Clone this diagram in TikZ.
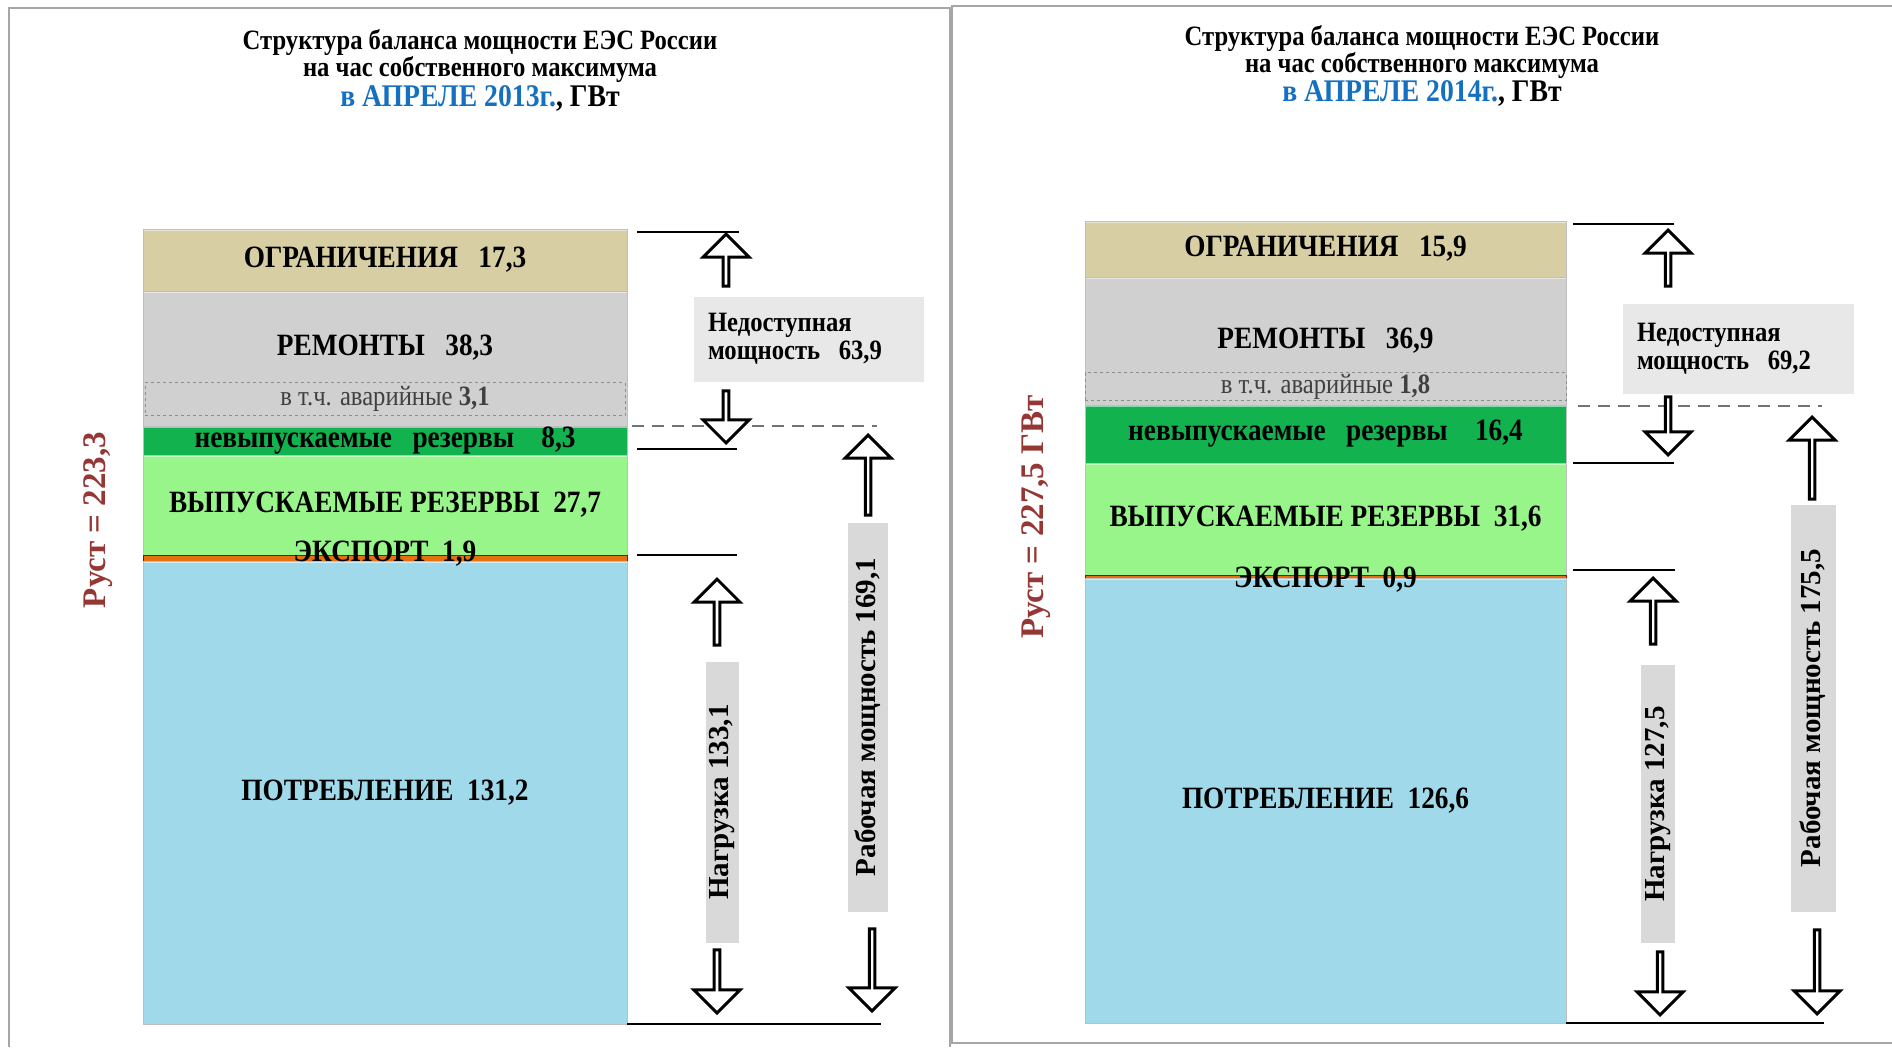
\documentclass[tikz,border=0pt]{standalone}
\usepackage{fontspec}
\setmainfont{Liberation Serif}
\newfontfamily\narrowfont[FakeStretch=0.88]{Liberation Serif}
\usetikzlibrary{positioning, shapes.arrows}

\definecolor{limcol}{HTML}{D7CFA3}
\definecolor{repcol}{HTML}{D0D0D0}
\definecolor{nrescol}{HTML}{12B24F}
\definecolor{rescol}{HTML}{98F58A}
\definecolor{expcol}{HTML}{E4700F}
\definecolor{conscol}{HTML}{A0D9EA}
\definecolor{notecol}{HTML}{E8E8E8}
\definecolor{vertcol}{HTML}{D9D9D9}
\definecolor{titleblue}{HTML}{1570C0}
\definecolor{capred}{HTML}{953735}
\definecolor{framecol}{HTML}{A6A6A6}

\newcommand{\segfont}{\narrowfont\bfseries\fontsize{31}{34}\selectfont}
\newcommand{\headfont}{\narrowfont\bfseries\fontsize{28}{30}\selectfont}
\newcommand{\notefont}{\narrowfont\bfseries\fontsize{28}{28}\selectfont}

\tikzstyle{segment} = [rectangle, minimum width=484pt, inner sep=0pt, outer sep=0pt, text centered, draw=black!25, line width=1pt, font=\segfont,
  path picture={\draw[white, opacity=0.5, line width=3pt] (path picture bounding box.north west) -- (path picture bounding box.north east);}]
\tikzstyle{stripe} = [rectangle, minimum width=484pt, inner sep=0pt, outer sep=0pt, draw=red!70!black, line width=0.8pt, fill=expcol]
\tikzstyle{seglabel} = [inner sep=0pt, font=\segfont]
\tikzstyle{emgbox} = [rectangle, draw=black!45, dashed, line width=0.8pt, inner sep=0pt, text=black!75, font=\narrowfont\fontsize{28}{30}\selectfont]
\tikzstyle{notebox} = [rectangle, fill=notecol, inner xsep=14pt, align=left, font=\notefont]
\tikzstyle{vertbox} = [rectangle, fill=vertcol, inner sep=0pt, rotate=90, font=\bfseries\fontsize{29}{32}\selectfont]
\tikzstyle{captext} = [rotate=90, text=capred, font=\bfseries\fontsize{33}{36}\selectfont]
\tikzstyle{headtext} = [inner sep=0pt, font=\headfont]
\tikzstyle{blockarrow} = [single arrow, draw=black, line width=3pt, fill=white, minimum width=46pt, single arrow head extend=11pt, single arrow tip angle=90, inner sep=0pt, anchor=tip]
\tikzstyle{blockup} = [blockarrow, rotate=90]
\tikzstyle{blockdown} = [blockarrow, rotate=-90]
\tikzstyle{dimline} = [line width=1.5pt]
\tikzstyle{levelline} = [line width=2pt, black!55, dash pattern=on 12pt off 8pt]
\tikzstyle{frame} = [line width=2pt, framecol]

\begin{document}
\begin{tikzpicture}[x=1pt, y=-1pt]
\useasboundingbox (0,0) rectangle (1892,1047);

% panels
\draw [frame] (9,1047) |- (950,8) -- (950,1047);
\draw [frame] (1892,6) -| (952,1043) -- (1892,1043);

% titles
\node (headL1) [headtext] at (480,42) {Структура баланса мощности ЕЭС России};
\node (headL2) [headtext] at (480,69) {на час собственного максимума};
\node (headL3) [headtext, font=\narrowfont\bfseries\fontsize{31.5}{32}\selectfont] at (480,98) {\textcolor{titleblue}{в АПРЕЛЕ 2013г.}, ГВт};
\node (headR1) [headtext] at (1422,38) {Структура баланса мощности ЕЭС России};
\node (headR2) [headtext] at (1422,65) {на час собственного максимума};
\node (headR3) [headtext, font=\narrowfont\bfseries\fontsize{31.5}{32}\selectfont] at (1422,93) {\textcolor{titleblue}{в АПРЕЛЕ 2014г.}, ГВт};

% left bar
\node (limL) [segment, fill=limcol, minimum height=62pt, anchor=north] at (385,229) {ОГРАНИЧЕНИЯ\ \ \ 17,3};
\node (repL) [segment, fill=repcol, minimum height=135pt, below=0pt of limL] {};
\node (repLtxt) [seglabel] at ([yshift=11pt]repL.center) {РЕМОНТЫ\ \ \ 38,3};
\node (emgL) [emgbox, minimum width=480pt, minimum height=33pt, anchor=south] at ([yshift=10pt]repL.south) {в т.ч. аварийные \textbf{3,1}};
\node (nresL) [segment, fill=nrescol, minimum height=29pt, below=0pt of repL] {невыпускаемые\ \ \ резервы\ \ \ \ 8,3};
\node (resL) [segment, fill=rescol, minimum height=100pt, below=0pt of nresL] {ВЫПУСКАЕМЫЕ РЕЗЕРВЫ\ \ 27,7};
\node (expL) [stripe, minimum height=6pt, below=0pt of resL] {};
\node (consL) [segment, fill=conscol, minimum height=463pt, below=0pt of expL] {ПОТРЕБЛЕНИЕ\ \ 131,2};
\node (expLtxt) [seglabel] at ([yshift=4pt]expL.center) {ЭКСПОРТ\ \ 1,9};
\node (capL) [captext] at (98,520) {Руст = 223,3};

% left marks
\draw [dimline] ([xshift=10pt,yshift=-3pt]limL.north east) -- ++(102,0);
\draw [levelline] ([xshift=5pt]nresL.north east) -- ++(245,0);
\draw [dimline] ([xshift=10pt,yshift=6pt]nresL.south east) -- ++(100,0);
\draw [dimline] ([xshift=10pt]expL.north east) -- ++(100,0);
\draw [dimline] (consL.south east) -- ++(254,0);
\node (unavL) [notebox, minimum width=230pt, minimum height=85pt, text width=202pt] at (809,339) {Недоступная\\мощность\ \ 63,9};
\node (loadL) [vertbox, minimum width=281pt, minimum height=33pt] at (722,802) {Нагрузка 133,1};
\node (workL) [vertbox, minimum width=389pt, minimum height=40pt] at (868,717) {Рабочая мощность 169,1};
\node (upL1) [blockup, minimum height=52pt] at (726,232) {};
\node (dnL1) [blockdown, minimum height=52pt] at (726,445) {};
\node (upL2) [blockup, minimum height=80pt] at (868,433) {};
\node (upL3) [blockup, minimum height=66pt] at (717,577) {};
\node (dnL3) [blockdown, minimum height=63pt] at (717,1015) {};
\node (dnL2) [blockdown, minimum height=82pt] at (872,1013) {};

% right bar
\node (limR) [segment, fill=limcol, minimum width=481pt, minimum height=56pt, anchor=north] at (1325.5,221) {ОГРАНИЧЕНИЯ\ \ \ 15,9};
\node (repR) [segment, fill=repcol, minimum width=481pt, minimum height=128pt, below=0pt of limR] {};
\node (repRtxt) [seglabel] at (repR.center) {РЕМОНТЫ\ \ \ 36,9};
\node (emgR) [emgbox, minimum width=481pt, minimum height=28pt, anchor=south] at ([yshift=4pt]repR.south) {в т.ч. аварийные \textbf{1,8}};
\node (nresR) [segment, fill=nrescol, minimum width=481pt, minimum height=58pt, below=0pt of repR] {невыпускаемые\ \ \ резервы\ \ \ \ 16,4};
\node (resR) [segment, fill=rescol, minimum width=481pt, minimum height=112pt, below=0pt of nresR] {ВЫПУСКАЕМЫЕ РЕЗЕРВЫ\ \ 31,6};
\node (expR) [stripe, minimum width=481pt, minimum height=3pt, below=0pt of resR] {};
\node (consR) [segment, fill=conscol, minimum width=481pt, minimum height=445pt, below=0pt of expR] {ПОТРЕБЛЕНИЕ\ \ 126,6};
\node (expRtxt) [seglabel] at ([yshift=-3pt]expR.center) {ЭКСПОРТ\ \ 0,9};
\node (capR) [captext] at (1036,517) {Руст = 227,5 ГВт};

% right marks
\draw [dimline] ([xshift=7pt,yshift=-3pt]limR.north east) -- ++(101,0);
\draw [levelline] ([xshift=12pt,yshift=-1pt]nresR.north east) -- ++(244,0);
\draw [dimline] ([xshift=7pt]nresR.south east) -- ++(101,0);
\draw [dimline] ([xshift=7pt,yshift=5pt]expR.north east) -- ++(102,0);
\draw [dimline] (consR.south east) -- ++(258,0);
\node (unavR) [notebox, minimum width=231pt, minimum height=90pt, text width=203pt] at (1738.5,349) {Недоступная\\мощность\ \ 69,2};
\node (loadR) [vertbox, minimum width=278pt, minimum height=34pt] at (1658,804) {Нагрузка 127,5};
\node (workR) [vertbox, minimum width=407pt, minimum height=45pt] at (1813,708) {Рабочая мощность 175,5};
\node (upR1) [blockup, minimum height=56pt] at (1668,228) {};
\node (dnR1) [blockdown, minimum height=58pt] at (1668,457) {};
\node (upR2) [blockup, minimum height=82pt] at (1812,415) {};
\node (upR3) [blockup, minimum height=66pt] at (1653,576) {};
\node (dnR3) [blockdown, minimum height=63pt] at (1660,1017) {};
\node (dnR2) [blockdown, minimum height=84pt] at (1817,1016) {};

\end{tikzpicture}
\end{document}
